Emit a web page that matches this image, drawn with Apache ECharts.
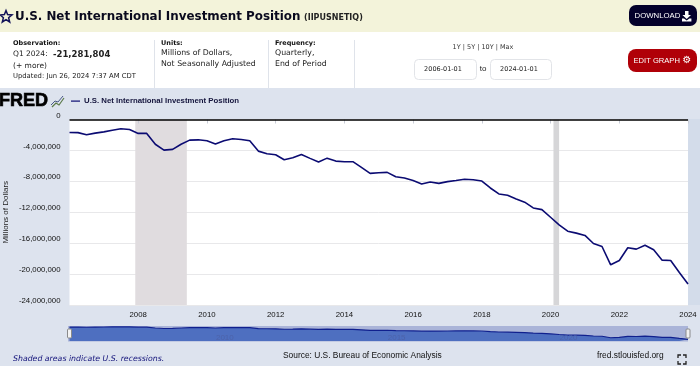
<!DOCTYPE html>
<html><head><meta charset="utf-8">
<style>html,body{margin:0;padding:0;background:#fff}#c{width:700px;height:366px}</style>
<script src="https://cdn.jsdelivr.net/npm/echarts@6/dist/echarts.min.js"></script>
</head><body><div id="c"></div>
<script>
const seriesName = 'U.S. Net International Investment Position';
const quarters = [
'2006-01-01','2006-04-01','2006-07-01','2006-10-01','2007-01-01','2007-04-01','2007-07-01','2007-10-01',
'2008-01-01','2008-04-01','2008-07-01','2008-10-01','2009-01-01','2009-04-01','2009-07-01','2009-10-01',
'2010-01-01','2010-04-01','2010-07-01','2010-10-01','2011-01-01','2011-04-01','2011-07-01','2011-10-01',
'2012-01-01','2012-04-01','2012-07-01','2012-10-01','2013-01-01','2013-04-01','2013-07-01','2013-10-01',
'2014-01-01','2014-04-01','2014-07-01','2014-10-01','2015-01-01','2015-04-01','2015-07-01','2015-10-01',
'2016-01-01','2016-04-01','2016-07-01','2016-10-01','2017-01-01','2017-04-01','2017-07-01','2017-10-01',
'2018-01-01','2018-04-01','2018-07-01','2018-10-01','2019-01-01','2019-04-01','2019-07-01','2019-10-01',
'2020-01-01','2020-04-01','2020-07-01','2020-10-01','2021-01-01','2021-04-01','2021-07-01','2021-10-01',
'2022-01-01','2022-04-01','2022-07-01','2022-10-01','2023-01-01','2023-04-01','2023-07-01','2023-10-01','2024-01-01'];
const positionMillions = [
-1680000,-1700000,-1980000,-1760000,-1600000,-1380000,-1200000,-1300000,
-1800000,-1800000,-3200000,-3960000,-3870000,-3200000,-2670000,-2630000,
-2750000,-3180000,-2750000,-2500000,-2580000,-2750000,-4090000,-4430000,
-4560000,-5200000,-4950000,-4520000,-5030000,-5500000,-5000000,-5380000,
-5460000,-5460000,-6190000,-6970000,-6880000,-6840000,-7400000,-7570000,
-7900000,-8340000,-8090000,-8260000,-8040000,-7900000,-7740000,-7800000,
-7960000,-8860000,-9630000,-9800000,-10280000,-10700000,-11440000,-11660000,
-12650000,-13630000,-14450000,-14700000,-15000000,-16040000,-16430000,-18800000,
-18240000,-16600000,-16770000,-16260000,-16860000,-18200000,-18240000,-19800000,-21281804];
const recessions = [['2007-12-01','2009-06-01','#e0dcdf'],['2020-02-01','2020-04-01','#d6d6d8']];
const yTickStep = 4000000;
const xLabelYears = ['2008','2010','2012','2014','2016','2018','2020','2022','2024'];
const navLabelYears = ['2010','2015','2020'];

const SANS = '"Liberation Sans",Arial,sans-serif', WIDE = '"DejaVu Sans",Verdana,sans-serif';
const t = (x,y,text,size,o={}) => ({type:'text',x,y,silent:true,z:o.z||10,style:{
  text,fontSize:size,fontFamily:o.ff||WIDE,fontWeight:o.w||'normal',fontStyle:o.st||'normal',
  fill:o.c||'#111',align:o.a||'left',verticalAlign:'middle',stroke:o.sk||null,lineWidth:o.sk?(o.lw||0.5):0}});
const r = (x,y,w,h,fill,o={}) => ({type:'rect',silent:true,z:o.z||5,shape:{x,y,width:w,height:h,r:o.r||0},
  style:{fill,stroke:o.s||null,lineWidth:o.s?1:0}});
const poly = (points,style) => ({type:'polygon',silent:true,z:10,shape:{points},style});
const pline = (points,stroke,lineWidth) => ({type:'polyline',silent:true,z:10,shape:{points},style:{stroke,fill:null,lineWidth}});
const ts = d => new Date(d+'T00:00:00Z').getTime();
const xMin = ts(quarters[0]), xMax = ts(quarters[quarters.length-1]);
const navX = y => 69.5 + (ts(y+'-01-01')-xMin)/(xMax-xMin)*618.5;

const graphics = [
  r(0,0,700,32,'#f3f3da',{z:1}), r(0,32,700,56,'#ffffff',{z:1}), r(0,88,700,278,'#dde3ee',{z:1}),
  r(688,119,12,186,'#d3dcea',{z:1}),
  poly([[6,10.5],[7.6,14.6],[12,14.9],[8.6,17.7],[9.7,22],[6,19.6],[2.3,22],[3.4,17.7],[0,14.9],[4.4,14.6]],{fill:'none',stroke:'#14145a',lineWidth:1.5}),
  t(15,16.5,seriesName,11.9,{w:'bold',c:'#0a0a1e'}),
  t(304,18,'(IIPUSNETIQ)',8,{w:'bold',c:'#222'}),
  r(629,5,68,21,'#04012b',{r:7}),
  t(634.5,16,'DOWNLOAD',7.8,{c:'#fff',ff:SANS}),
  poly([[685,11],[688.5,11],[688.5,15],[691,15],[686.7,19],[682.4,15],[685,15]],{fill:'#fff'}),
  poly([[682,18.6],[684,18.6],[686.7,20.6],[689.4,18.6],[691.4,18.6],[691.4,21.4],[682,21.4]],{fill:'#fff'}),
  t(13,43,'Observation:',6.5,{w:'bold'}),
  t(13,54.5,'Q1 2024:',7.5,{c:'#222'}),
  t(53,54.5,'-21,281,804',8.5,{w:'bold',c:'#222'}),
  t(13,66,'(+ more)',7.5,{c:'#222'}),
  t(13,76.5,'Updated: Jun 26, 2024 7:37 AM CDT',6.8,{c:'#222'}),
  r(154,40,1,48,'#dfe3ea'), r(268,40,1,48,'#dfe3ea'), r(354,40,1,48,'#dfe3ea'),
  t(161,43,'Units:',6.5,{w:'bold'}),
  t(161,53,'Millions of Dollars,',7.8,{c:'#222'}),
  t(161,64,'Not Seasonally Adjusted',7.8,{c:'#222'}),
  t(275,43,'Frequency:',6.5,{w:'bold'}),
  t(275,53,'Quarterly,',7.8,{c:'#222'}),
  t(275,64,'End of Period',7.8,{c:'#222'}),
  t(483,47,'1Y | 5Y | 10Y | Max',6.5,{a:'center',c:'#333'}),
  r(414.5,59.5,62,20,'#fff',{r:4,s:'#e2e4e8'}), r(490.5,59.5,61,20,'#fff',{r:4,s:'#e2e4e8'}),
  t(443,69.5,'2006-01-01',6.5,{a:'center',ff:WIDE,c:'#222'}),
  t(483,69,'to',8,{a:'center',c:'#222',ff:SANS}),
  t(519,69.5,'2024-01-01',6.5,{a:'center',ff:WIDE,c:'#222'}),
  r(628,49,69,23,'#b00008',{r:8}),
  t(633.5,61,'EDIT GRAPH',7.6,{c:'#fff',ff:SANS}),
  t(687,60.5,'\u2699',10,{a:'center',c:'#fff',w:'bold'}),
  t(-1,101,'FRED',18,{w:'bold',c:'#000',ff:SANS,sk:'#000',lw:0.7}),
  pline([[52,107],[56,103],[59,105],[64,98]],'#5c7a4a',1.2),
  pline([[51,105],[55,101],[58,102],[63,96]],'#4a5a86',1),
  r(71,100.5,9,1.2,'#0b0b72'),
  t(84,101,seriesName,7.8,{w:'bold',c:'#14143c',ff:SANS}),
  r(68,326,620,15.5,'#aab4d8',{z:1}),
  r(67.5,329,4,9,'#f2f2f2',{z:12,s:'#8a8a8a',r:1}),
  r(686,329,4,9,'#f2f2f2',{z:12,s:'#8a8a8a',r:1}),
  ...navLabelYears.map(y => t(navX(y)+9,338,y,8,{c:'#4d63aa',ff:SANS,z:11})),
  t(13,359,'Shaded areas indicate U.S. recessions.',7.8,{st:'italic',c:'#12127a',ff:WIDE}),
  t(283,356,'Source: U.S. Bureau of Economic Analysis',8.4,{c:'#111',ff:SANS}),
  t(597,356,'fred.stlouisfed.org',8.4,{c:'#111',ff:SANS}),
  pline([[678,358],[678,355],[681,355]],'#222',1.3), pline([[683,355],[686,355],[686,358]],'#222',1.3),
  pline([[686,361],[686,364],[683,364]],'#222',1.3), pline([[681,364],[678,364],[678,361]],'#222',1.3)
];

const pairs = quarters.map((q,i)=>[ts(q),positionMillions[i]]);
const xTickValues = xLabelYears.map(y=>ts(y+'-01-01'));
const chart = echarts.init(document.getElementById('c'),null,{renderer:'canvas'});
chart.setOption({
  animation:false,
  backgroundColor:'transparent',
  graphic:graphics,
  grid:[
    {left:69.5,right:12,top:119.5,height:185.5,backgroundColor:'#fff',show:true,borderWidth:0,z:2,outerBoundsMode:'none',containLabel:false},
    {left:69.5,right:12,top:326,height:15,show:false,z:2,outerBoundsMode:'none',containLabel:false}
  ],
  xAxis:[
    {type:'value',gridIndex:0,min:xMin,max:xMax,scale:true,z:3,
     axisLine:{show:false},splitLine:{show:false},
     axisTick:{show:true,length:4,lineStyle:{color:'#c8ccd6'},customValues:xTickValues},
     axisLabel:{margin:6,fontSize:7.8,fontFamily:SANS,color:'#111',
       customValues:xTickValues,formatter:v=>String(new Date(v).getUTCFullYear()),
       hideOverlap:false,showMinLabel:true,showMaxLabel:true}},
    {type:'value',gridIndex:1,min:xMin,max:xMax,scale:true,show:false}
  ],
  yAxis:[
    {type:'value',gridIndex:0,min:-24000000,max:0,interval:yTickStep,z:3,
     name:'Millions of Dollars',nameLocation:'middle',nameGap:60,nameRotate:90,nameMoveOverlap:false,
     nameTextStyle:{fontSize:8,fontFamily:SANS,color:'#222'},
     axisLine:{show:false},axisTick:{show:false},
     axisLabel:{fontSize:7.8,fontFamily:SANS,color:'#111',margin:9,verticalAlign:'bottom',
       formatter:v=>v.toLocaleString('en-US')},
     splitLine:{show:true,lineStyle:{color:'#e8e8ea',width:1}}},
    {type:'value',gridIndex:1,min:-24000000,max:0,show:false}
  ],
  series:[
    {type:'line',name:seriesName,xAxisIndex:0,yAxisIndex:0,data:pairs,showSymbol:false,z:5,
     lineStyle:{color:'#0b0b72',width:1.6},
     markArea:{silent:true,z:3,
       data:recessions.map(([a,b,c])=>[{xAxis:ts(a),itemStyle:{color:c}},{xAxis:ts(b)}])},
     markLine:{silent:true,symbol:'none',label:{show:false},lineStyle:{color:'#000',width:1.5,type:'solid'},
       data:[{yAxis:0}]}},
    {type:'line',xAxisIndex:1,yAxisIndex:1,data:pairs,showSymbol:false,z:5,
     lineStyle:{color:'#10208e',width:1.2},
     areaStyle:{color:'#4e6fc0',opacity:1,origin:'start'}}
  ]
});
</script></body></html>
